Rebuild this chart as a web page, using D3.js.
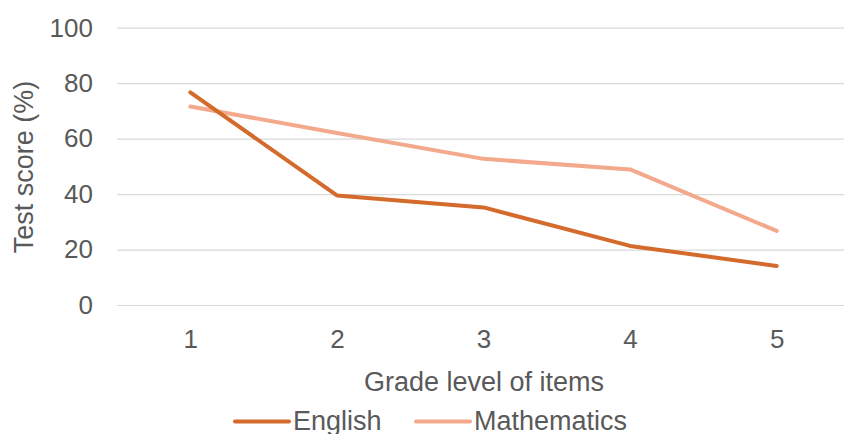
<!DOCTYPE html>
<html>
<head>
<meta charset="utf-8">
<script src="https://cdn.jsdelivr.net/npm/d3@7"></script>
<style>
  body { margin: 0; background: #fff; }
  text { font-family: "Liberation Sans", Arial, sans-serif; fill: #595959; }
</style>
</head>
<body>
<div id="chart"></div>
<script>
// data
const grades = ["1", "2", "3", "4", "5"];
const english = [76.7, 39.5, 35.2, 21.3, 14.1];
const maths = [71.6, 62.0, 52.7, 48.9, 26.7];
const yTicks = [0, 20, 40, 60, 80, 100];
const seriesNames = ["English", "Mathematics"];

const width = 844, height = 434;
const COLOR_EN = "#D46A2B";
const COLOR_MA = "#F3A98C";

const svg = d3.select("#chart").append("svg")
  .attr("width", width)
  .attr("height", height);

// scales
const x = d3.scalePoint()
  .domain(grades)
  .range([117, 850])
  .padding(0.5);

const y = d3.scaleLinear()
  .domain([0, 100])
  .range([305, 27.7]);

// gridlines
svg.append("g")
  .attr("transform", "translate(117,0)")
  .call(d3.axisLeft(y).tickValues(yTicks).tickSize(-(850 - 117)).tickFormat(""))
  .call(g => g.select(".domain").remove())
  .call(g => g.selectAll("line").attr("stroke", "#d9d9d9").attr("stroke-width", 1.2));

// y tick labels
svg.append("g")
  .attr("transform", "translate(93,0)")
  .call(d3.axisLeft(y).tickValues(yTicks).tickSize(0).tickPadding(0))
  .call(g => g.select(".domain").remove())
  .selectAll("text")
  .attr("font-size", "26px")
  .attr("fill", "#595959");

// x tick labels
svg.append("g")
  .attr("transform", "translate(0,330)")
  .call(d3.axisBottom(x).tickSize(0).tickPadding(0))
  .call(g => g.select(".domain").remove())
  .selectAll("text")
  .attr("font-size", "26px")
  .attr("dy", "0.71em")
  .attr("fill", "#595959");

// axis titles
svg.append("text")
  .attr("x", 484)
  .attr("y", 391)
  .attr("text-anchor", "middle")
  .attr("font-size", "27px")
  .text("Grade level of items");

svg.append("text")
  .attr("transform", "translate(33,167) rotate(-90)")
  .attr("text-anchor", "middle")
  .attr("font-size", "27px")
  .text("Test score (%)");

// lines
const line = d3.line()
  .x((d, i) => x(grades[i]))
  .y(d => y(d));

[[maths, COLOR_MA], [english, COLOR_EN]].forEach(([vals, color]) => {
  svg.append("path")
    .datum(vals)
    .attr("fill", "none")
    .attr("stroke", color)
    .attr("stroke-width", 4)
    .attr("stroke-linecap", "round")
    .attr("stroke-linejoin", "round")
    .attr("d", line);
});

// legend
const legendItems = [
  { name: seriesNames[0], color: COLOR_EN, x: 235 },
  { name: seriesNames[1], color: COLOR_MA, x: 416 }
];
const lg = svg.selectAll("g.legend")
  .data(legendItems)
  .enter()
  .append("g")
  .attr("class", "legend")
  .attr("transform", d => `translate(${d.x},0)`);

lg.append("line")
  .attr("x1", 0).attr("x2", 54)
  .attr("y1", 421.5).attr("y2", 421.5)
  .attr("stroke", d => d.color)
  .attr("stroke-width", 4)
  .attr("stroke-linecap", "round");

lg.append("text")
  .attr("x", 58)
  .attr("y", 430)
  .attr("font-size", "27px")
  .text(d => d.name);
</script>
</body>
</html>
